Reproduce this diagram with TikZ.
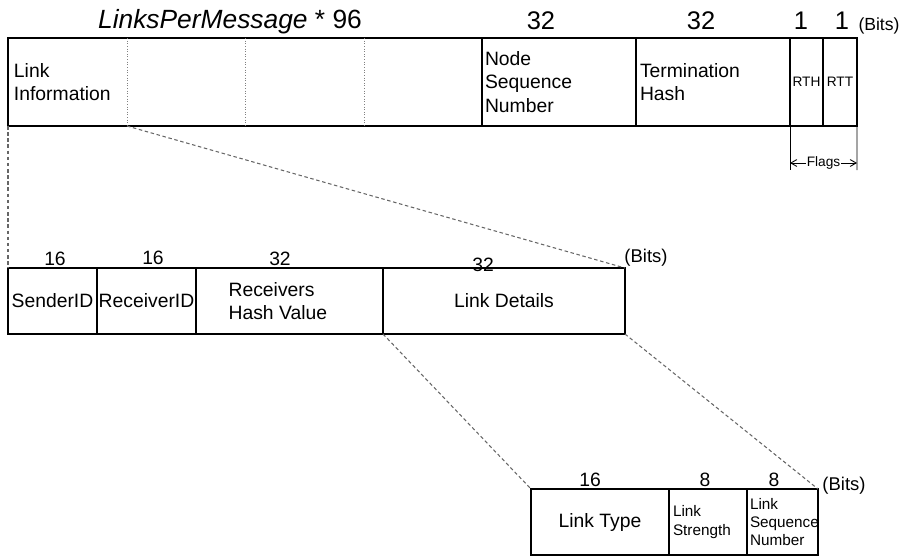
\documentclass[tikz,border=0pt]{standalone}
\usepackage{fontspec}
\setmainfont{Liberation Sans}
\usetikzlibrary{arrows}
\newcommand{\szhead}{\fontsize{15}{18}\selectfont}
\newcommand{\szbig}{\fontsize{14.5}{17}\selectfont}
\newcommand{\sznum}{\fontsize{11}{13}\selectfont}
\newcommand{\sztxt}{\fontsize{11}{13.5}\selectfont}
\newcommand{\szbits}{\fontsize{10.5}{12}\selectfont}
\newcommand{\szsmall}{\fontsize{8.7}{10.5}\selectfont}
\newcommand{\sztiny}{\fontsize{7.8}{9}\selectfont}

\begin{document}
\begin{tikzpicture}[x=0.02cm, y=-0.02cm, line width=0.7pt, >=angle 60,
  cell/.style={draw, inner sep=0pt, outer sep=0pt, anchor=north west, font=\sztxt},
  open/.style={inner sep=0pt, outer sep=0pt, anchor=north west, font=\sztxt},
  lbl/.style={inner sep=0pt},
  zoomline/.style={gray!80!black, dash pattern=on 2pt off 1.5pt, line width=0.6pt},
  gap/.style={gray, densely dotted, line width=0.5pt}]
\useasboundingbox (0,0) rectangle (907,556);

%%%%% Message %%%%%
\node[open, minimum width=2.38cm, minimum height=1.76cm, text width=2.14cm, align=left] (info) at (8,38) {Link\\Information};
\node[open, minimum width=2.36cm, minimum height=1.76cm] (blk1) at (127,38) {};
\node[open, minimum width=2.38cm, minimum height=1.76cm] (blk2) at (245,38) {};
\node[open, minimum width=2.36cm, minimum height=1.76cm] (blk3) at (364,38) {};
\draw (info.north west) rectangle (blk3.south east);
\foreach \c in {blk1,blk2,blk3}{
\draw[gap] (\c.north west)--(\c.south west);
}
\node[cell, minimum width=3.08cm, minimum height=1.76cm, text width=2.96cm, align=left] (nsn) at (482,38) {Node\\Sequence\\Number};
\node[cell, minimum width=3.08cm, minimum height=1.76cm, text width=2.92cm, align=left] (term) at (636,38) {Termination\\Hash};
\node[cell, minimum width=0.66cm, minimum height=1.76cm, font=\sztiny] (rth) at (790,38) {RTH};
\node[cell, minimum width=0.68cm, minimum height=1.76cm, font=\sztiny] (rtt) at (823,38) {RTT};

\node[lbl, anchor=base, font=\szhead] (count) at (230,28) {\textit{LinksPerMessage} * 96};
\foreach \x/\t [count=\i] in {541/32,701/32,801/1,842/1}{
\node[lbl, font=\szbig] (topnum\i) at (\x,20.5) {\t};
}
\node[lbl, font=\fontsize{10}{12}\selectfont] (topbits) at (879,26) {(Bits)};

%%%%% Flags %%%%%
\coordinate (fl) at (790,170);
\coordinate (fr) at (857,170);
\coordinate (fal) at (790,163);
\coordinate (far) at (857,163);
\draw[line width=0.5pt] (rth.south west)--(fl);
\draw[line width=0.5pt] (rtt.south east)--(fr);
\draw[<->, line width=0.5pt] (fal)-- node[fill=white, inner sep=0.5pt, font=\sztiny] (flags) {Flags} (far);

%%%%% Link Information %%%%%
\node[cell, minimum width=1.78cm, minimum height=1.32cm] (sender) at (8,268) {SenderID};
\node[cell, minimum width=1.98cm, minimum height=1.32cm] (receiver) at (97,268) {ReceiverID};
\node[cell, minimum width=3.74cm, minimum height=1.32cm] (rhash) at (196,268) {};
\node[cell, minimum width=4.84cm, minimum height=1.32cm] (details) at (383,268) {Link Details};
\node[lbl, font=\sztxt, align=left, anchor=west] (rhashtxt) at (228,301) {Receivers\\Hash Value};
\foreach \x/\y/\t [count=\i] in {55/259/16,153/258/16,280/259/32,483/265/32}{
\node[lbl, font=\sznum] (midnum\i) at (\x,\y) {\t};
}
\node[lbl, font=\szbits] (midbits) at (646,258) {(Bits)};

%%%%% Link Details %%%%%
\node[cell, minimum width=2.76cm, minimum height=1.32cm] (ltype) at (531,489) {Link Type};
\node[cell, minimum width=1.56cm, minimum height=1.32cm, text width=1.40cm, align=left, font=\szsmall] (lstr) at (669,489) {Link\\Strength};
\node[cell, minimum width=1.42cm, minimum height=1.32cm, text width=1.30cm, align=left, font=\szsmall] (lseq) at (747,489) {Link\\Sequence\\Number};
\foreach \x/\t [count=\i] in {590/16,705/8,774/8}{
\node[lbl, font=\sznum] (lownum\i) at (\x,480) {\t};
}
\node[lbl, font=\szbits] (lowbits) at (844,486) {(Bits)};

%%%%% Zoom lines %%%%%
\draw[zoomline] (info.south west)--(sender.north west);
\draw[zoomline] (info.south east)--(details.north east);
\draw[zoomline] (details.south west)--(ltype.north west);
\draw[zoomline] (details.south east)--(lseq.north east);

\end{tikzpicture}
\end{document}
